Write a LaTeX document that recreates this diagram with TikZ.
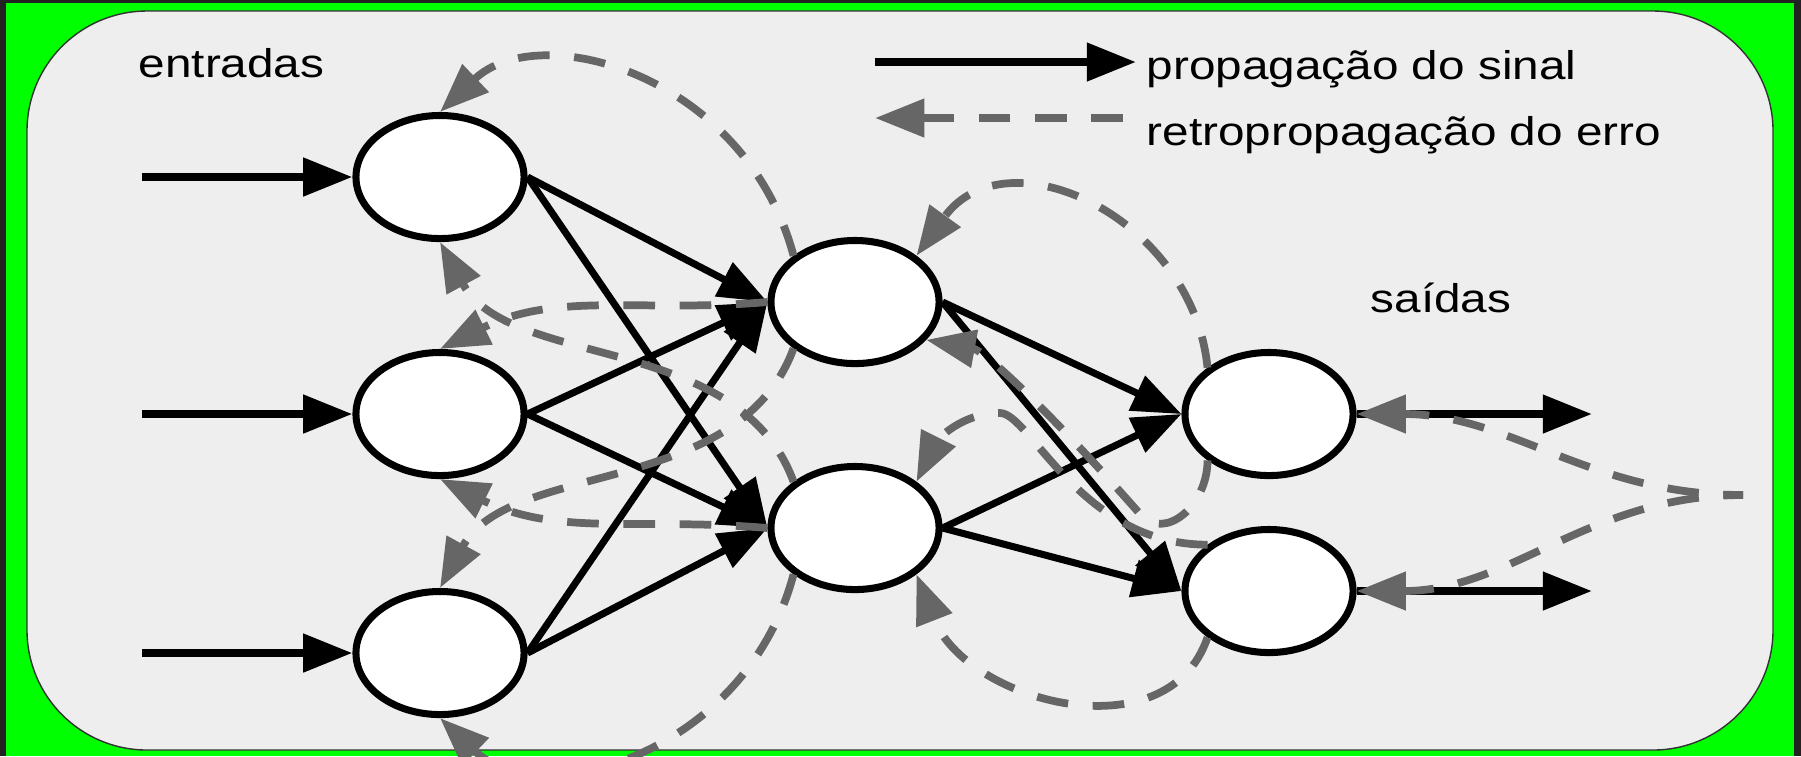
\documentclass[tikz,border=0pt]{standalone}
\usepackage{fontspec}
\usepackage{graphicx}
\setmainfont{Liberation Sans}
\usetikzlibrary{arrows.meta,shapes.geometric}
\definecolor{errgray}{HTML}{666666}
\definecolor{bggray}{HTML}{EEEEEE}
\definecolor{framedark}{HTML}{222222}
\definecolor{brightgreen}{HTML}{00FF00}
\definecolor{panelline}{HTML}{333333}
\tikzset{
  neuron/.style={ellipse, draw=black, fill=white, line width=2pt,
    minimum width=1.68cm, minimum height=1.23cm, inner sep=0pt},
  tipshape/.style={-{Triangle[length=14pt,width=10.5pt]}},
  sig/.style={black, line width=2pt, tipshape},
  io/.style={black, line width=2.3pt, tipshape},
  err/.style={errgray, line width=2.2pt, dash pattern=on 9pt off 7pt, tipshape},
  lbl/.style={font=\fontsize{11.4pt}{13pt}\selectfont, inner sep=0pt, anchor=base west}
}
\begin{document}
\begin{tikzpicture}[x=0.01cm, y=-0.01cm]
\useasboundingbox (0,0) rectangle (1801,756);
% frame
\fill[framedark] (0,0) rectangle (1801,756);
\fill[brightgreen] (6,3) rectangle (1794,756);
\draw[panelline, line width=0.4pt, fill=bggray, rounded corners=1.2cm] (27,11) rectangle (1773,750);

% neurons
\node[neuron] (in1) at (440,177) {};
\node[neuron] (in2) at (440,414) {};
\node[neuron] (in3) at (440,653) {};
\node[neuron] (h1) at (855,302) {};
\node[neuron] (h2) at (855,528) {};
\node[neuron] (o1) at (1269,414) {};
\node[neuron] (o2) at (1269,591) {};

% free ends
\coordinate (x1) at (142,177);
\coordinate (x2) at (142,414);
\coordinate (x3) at (142,653);
\coordinate (y1) at (1592,414);
\coordinate (y2) at (1592,591);
\coordinate (e) at (1743,495);
\coordinate (aTop) at (1000,413);
\coordinate (bLow) at (1140,514);
\coordinate (lgA) at (875,62);
\coordinate (lgB) at (1136,62);
\coordinate (leA) at (1123,118);
\coordinate (leB) at (875,118);

% labels
\node[lbl] (tEnt) at (138,77) {\scalebox{1.19}[1]{entradas}};
\node[lbl] (tSig) at (1146,79) {\scalebox{1.19}[1]{propagação do sinal}};
\node[lbl] (tErr) at (1146,145) {\scalebox{1.19}[1]{retropropagação do erro}};
\node[lbl] (tSai) at (1370,312) {\scalebox{1.19}[1]{saídas}};

% legend
\draw[io] (lgA) -- (lgB);
\draw[err] (leA) -- (leB);

% inputs / outputs
\draw[io] (x1) -- (in1.west);
\draw[io] (x2) -- (in2.west);
\draw[io] (x3) -- (in3.west);
\draw[io] (o1.east) -- (y1);
\draw[io] (o2.east) -- (y2);

% signal propagation
\draw[sig] (in1.east) -- (h1.west);
\draw[sig] (in1.east) -- (h2.west);
\draw[sig] (in2.east) -- (h1.west);
\draw[sig] (in2.east) -- (h2.west);
\draw[sig] (in3.east) -- (h1.west);
\draw[sig] (in3.east) -- (h2.west);
\draw[sig] (h1.east) -- (o1.west);
\draw[sig] (h1.east) -- (o2.west);
\draw[sig] (h2.east) -- (o1.west);
\draw[sig] (h2.east) -- (o2.west);

% error back-propagation
\draw[err] (h1.143) .. controls +(-48,-180) and +(100,-95) .. (in1.north);
\draw[err] (h1.west) .. controls +(-128,11) and +(117,-58) .. (in2.north);
\draw[err] (h2.143) .. controls +(-55,-150) and +(70,128) .. (in1.south);
\draw[err] (h2.west) .. controls +(-128,-11) and +(117,58) .. (in2.south);
\draw[err] (h1.217) .. controls +(-55,150) and +(70,-128) .. (in3.north);
\draw[err] (h2.217) .. controls +(-48,180) and +(100,95) .. (in3.south);
\draw[err] (o1.143) .. controls +(-15,-150) and +(90,-125) .. (h1.37);
\draw[err] (o2.143) .. controls +(-127,0) and +(30,0) .. (aTop) .. controls +(-40,0) and +(20,-40) .. (h2.37);
\draw[err] (o1.217) .. controls +(0,45) and +(25,28) .. (bLow) .. controls +(-80,-91) and +(60,11) .. (h1.332);
\draw[err] (o2.217) .. controls +(-40,118) and +(50,128) .. (h2.323);
\draw[err, dash phase=3.4pt] (e) .. controls +(-154,0) and +(154,0) .. (o1.east);
\draw[err, dash phase=3.4pt] (e) .. controls +(-154,0) and +(154,0) .. (o2.east);
\end{tikzpicture}
\end{document}
